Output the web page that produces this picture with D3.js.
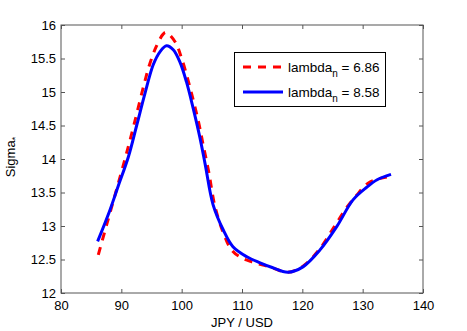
<!DOCTYPE html>
<html>
<head>
<meta charset="utf-8">
<script src="https://cdn.jsdelivr.net/npm/d3@7"></script>
<style>
  body { margin: 0; background: #fff; }
  svg text { font-family: "Liberation Sans", Arial, sans-serif; }
</style>
</head>
<body>
<div id="viz"></div>
<script>
// series: lambda_n = 6.86 (red dashed)
const redX = [86.18, 87.57, 89.07, 90.61, 92.15, 93.81, 94.75, 95.8, 96.9, 97.4, 98.9, 100.0, 101.4, 102.8, 103.5, 104.5, 105.5, 106.9, 108.3, 110.0, 111.8, 114.6, 117.6, 120.1, 122.9, 125.5, 127.4, 129.0, 130.9, 132.5, 134.0];
const redY = [12.57, 13.02, 13.50, 14.00, 14.53, 15.13, 15.43, 15.68, 15.86, 15.89, 15.75, 15.50, 15.06, 14.55, 14.24, 13.80, 13.30, 12.90, 12.64, 12.52, 12.46, 12.39, 12.31, 12.40, 12.66, 13.02, 13.28, 13.46, 13.64, 13.70, 13.73];
// series: lambda_n = 8.58 (blue solid)
const blueX = [86.07, 88.12, 89.5, 91.16, 92.54, 93.92, 95.3, 96.4, 97.5, 98.6, 99.7, 100.8, 101.9, 103.0, 103.9, 105.2, 106.9, 108.5, 110.8, 113.0, 115.0, 117.6, 120.1, 122.9, 125.7, 128.4, 130.7, 132.4, 134.7];
const blueY = [12.77, 13.24, 13.60, 14.03, 14.50, 14.98, 15.41, 15.60, 15.69, 15.63, 15.45, 15.15, 14.76, 14.33, 13.92, 13.32, 12.94, 12.69, 12.54, 12.45, 12.38, 12.31, 12.39, 12.64, 12.99, 13.39, 13.58, 13.69, 13.77];
const xTicks = [80, 90, 100, 110, 120, 130, 140];
const yTicks = [12, 12.5, 13, 13.5, 14, 14.5, 15, 15.5, 16];
const legendLabels = ["6.86", "8.58"];

const width = 467, height = 331;
const m = { left: 61, top: 25, right: 44, bottom: 38 };

const svg = d3.select("#viz").append("svg")
    .attr("width", width)
    .attr("height", height);

const x = d3.scaleLinear().domain([80, 140]).range([m.left, width - m.right]);
const y = d3.scaleLinear().domain([12, 16]).range([height - m.bottom, m.top]);

const axisColor = "#555";

// ticks inside the box, on all four sides
const tk = 4;
svg.append("g")
    .attr("transform", `translate(0,${y(12)})`)
    .call(d3.axisBottom(x).tickValues(xTicks).tickSize(-tk).tickPadding(8).tickFormat(d3.format("d")))
    .call(g => g.select(".domain").remove());
svg.append("g")
    .attr("transform", `translate(0,${y(16)})`)
    .call(d3.axisTop(x).tickValues(xTicks).tickSize(-tk).tickFormat(""))
    .call(g => g.select(".domain").remove());
svg.append("g")
    .attr("transform", `translate(${x(80)},0)`)
    .call(d3.axisLeft(y).tickValues(yTicks).tickSize(-tk).tickPadding(5).tickFormat(d => d))
    .call(g => g.select(".domain").remove());
svg.append("g")
    .attr("transform", `translate(${x(140)},0)`)
    .call(d3.axisRight(y).tickValues(yTicks).tickSize(-tk).tickFormat(""))
    .call(g => g.select(".domain").remove());

svg.selectAll(".tick line").attr("stroke", axisColor);
svg.selectAll(".tick text").attr("font-size", 13).attr("fill", "#000")
    .attr("font-family", "Liberation Sans, Arial, sans-serif");

svg.append("rect")
    .attr("x", x(80)).attr("y", y(16))
    .attr("width", x(140) - x(80)).attr("height", y(12) - y(16))
    .attr("fill", "none").attr("stroke", axisColor).attr("stroke-width", 1);

const line = d3.line()
    .x(d => x(d[0])).y(d => y(d[1]))
    .curve(d3.curveCatmullRom.alpha(0.5));

svg.append("path")
    .datum(redX.map((v, i) => [v, redY[i]]))
    .attr("d", line)
    .attr("fill", "none").attr("stroke", "#ff0000")
    .attr("stroke-width", 3).attr("stroke-dasharray", "8,7");

svg.append("path")
    .datum(blueX.map((v, i) => [v, blueY[i]]))
    .attr("d", line)
    .attr("fill", "none").attr("stroke", "#0000ff")
    .attr("stroke-width", 3);

// legend
const lg = svg.append("g");
lg.append("rect")
    .attr("x", 234.5).attr("y", 52.5).attr("width", 151).attr("height", 54)
    .attr("fill", "#fff").attr("stroke", "#000").attr("stroke-width", 1);
const styles = [{ c: "#ff0000", dash: "8,7" }, { c: "#0000ff", dash: null }];
styles.forEach((s, i) => {
    const ly = 67 + i * 25;
    lg.append("line")
        .attr("x1", 243).attr("x2", 283).attr("y1", ly).attr("y2", ly)
        .attr("stroke", s.c).attr("stroke-width", 3)
        .attr("stroke-dasharray", s.dash);
    const t = lg.append("text")
        .attr("x", 288).attr("y", ly + 5)
        .attr("font-size", 13.5).attr("fill", "#000");
    t.append("tspan").text("lambda");
    t.append("tspan").attr("font-size", 10).attr("dy", 5).text("n");
    t.append("tspan").attr("dy", -5).text(" = " + legendLabels[i]);
});

// axis labels
svg.append("text")
    .attr("x", x(110)).attr("y", 327)
    .attr("text-anchor", "middle").attr("font-size", 13)
    .text("JPY / USD");

const yl = svg.append("text")
    .attr("transform", `translate(15,${y(14) - 2}) rotate(-90)`)
    .attr("text-anchor", "middle").attr("font-size", 13);
yl.append("tspan").text("Sigma");
yl.append("tspan").attr("font-size", 9).attr("dy", 3).text("*");
</script>
</body>
</html>
